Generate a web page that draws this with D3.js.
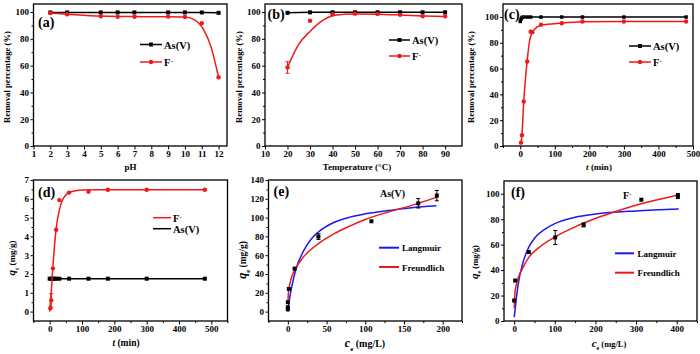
<!DOCTYPE html>
<html><head><meta charset="utf-8">
<script src="https://cdn.jsdelivr.net/npm/d3@7"></script>
<style>
body{margin:0;background:#fff}
svg{display:block}
text{font-family:"Liberation Serif","Times New Roman",serif;font-weight:bold;fill:#000}
</style>
</head><body>
<svg id="c" width="700" height="354"></svg>
<script>
// ---------- data ----------
// (a) effect of pH
const phX   = [2,3,5,6,7,9,10,11,12];
const phAs  = [99.7,99.7,99.7,99.7,99.7,99.7,99.7,99.7,99.4];
const phF   = [99.2,98.4,96.9,96.4,96.5,96.6,96.3,91.6,51.3];
const phFitX= [2,3,5,7,9,10,10.6,11.1,11.55,12];
const phFitY= [99.2,98.4,97.0,96.6,96.5,96.3,94.0,87.0,74.0,51.3];
// (b) effect of temperature
const tpX   = [20,30,40,50,60,70,80,90];
const tpAs  = [99.4,99.8,99.8,99.8,99.8,99.8,99.8,99.8];
const tpF   = [58.6,93.5,98.3,98.8,98.6,97.9,96.9,96.8];
const tpFerr= [4.3,0,0,0,0,0,0,0];
const tpFitX= [20,25,30,35,40,45,50,60,70,80,90];
const tpFitY= [58.6,76,85.5,93,97.3,98.3,98.6,98.4,97.8,97.1,96.6];
// (c) removal vs time
const rtAsX = [0,2,5,10,20,30,60,120,180,300,480];
const rtAs  = [96.5,98.2,99.6,99.9,99.9,99.9,99.9,99.9,99.9,99.9,99.9];
const rtFX  = [2,5,10,20,30,35,60,120,180,300,480];
const rtF   = [2.6,8.4,34.5,65.5,88.6,88.2,94.0,95.1,96.5,96.5,96.5];
const rtFitX= [2,5,10,15,20,25,30,40,60,120,180,300,480];
const rtFitY= [2,9,34,52,66,78,85,90,93.5,95.2,96.2,96.5,96.5];
// (d) uptake vs time
const qtFX  = [2,5,10,20,30,60,120,180,300,480];
const qtF   = [0.18,0.6,2.3,4.35,5.93,6.33,6.38,6.48,6.48,6.48];
const qtFerr= [0,0.35,0,0,0,0,0,0,0,0];
const qtFitX= [0,5,10,15,20,30,40,50,60,80,100,150,200,480];
const qtFitY= [0,1.1,2.4,3.5,4.4,5.4,5.95,6.2,6.33,6.43,6.47,6.48,6.48,6.48];
const qtAsX = [0,5,10,15,20,30,60,120,180,300,480];
const qtAs  = [1.75,1.75,1.75,1.75,1.75,1.75,1.75,1.75,1.75,1.75,1.75];
// (e) As(V) isotherm
const isoAsX  = [0,0,0,1.3,8.7,39.5,108,168.5,192.5];
const isoAsY  = [2.5,4.6,10,24.1,45.7,79.8,96.1,115.2,123.4];
const isoAsErr= [0,0,0,0,0,3,0,5,5.5];
const langAsX = [0,2,5,10,20,30,40,60,80,100,130,160,192];
const langAsY = [0,12.5,26,44,64,77,85,95,100.5,104,107.5,110.5,112.5];
const frAsX   = [0.1,0.5,1,2,5,10,20,40,60,80,100,130,160,192];
const frAsY   = [10,17,21.6,27,37,46,58,72.6,83,91,98,106,113,121.5];
// (f) F- isotherm
const isoFX   = [0,2.5,36,101,171,313,403];
const isoFY   = [16.1,31.8,54.2,65.6,75.5,95.3,98.2];
const isoFErr = [0,0,0,5.5,1.5,0,2];
const langFX  = [0,2,5,10,20,36,50,75,100,150,200,300,405];
const langFY  = [3,8,17,29,44,58,65,72,76.5,81.5,84,86.5,88];
const frFX    = [0.2,1,2.5,5,10,20,36,60,100,150,200,250,300,350,405];
const frFY    = [10,17,23.5,28,34,41,50,57.5,66,74,80.5,86,91,95,99];
// tick labels
const ticksPH   = [1,2,3,4,5,6,7,8,9,10,11,12];
const ticksTemp = [10,20,30,40,50,60,70,80,90];
const ticksPct  = [0,20,40,60,80,100];
const ticksT500 = [0,100,200,300,400,500];
const ticksQt   = [0,1,2,3,4,5,6,7];
const ticksCeAs = [0,50,100,150,200];
const ticksQeAs = [0,20,40,60,80,100,120,140];
const ticksCeF  = [0,100,200,300,400];
const ticksQeF  = [0,20,40,60,80,100];

// ---------- drawing ----------
const RED="#f01818", BLUE="#1a1aee", BLACK="#000";
const svg=d3.select('#c');
const defs=svg.append('defs');
function range(a,b,s){const r=[];for(let v=a;v<=b+1e-9;v+=s)r.push(+v.toFixed(6));return r;}

function panel(o){
  const x=d3.scaleLinear().domain(o.xd).range([o.L,o.R]);
  const y=d3.scaleLinear().domain(o.yd).range([o.B,o.T]);
  const g=svg.append('g');
  defs.append('clipPath').attr('id','cl'+o.id).append('rect')
    .attr('x',o.L).attr('y',o.T).attr('width',o.R-o.L).attr('height',o.B-o.T);
  const style=s=>{s.select('.domain').remove();
    s.selectAll('line').attr('stroke','#000').attr('stroke-width',1);
    s.selectAll('text').attr('font-family','"Liberation Serif",serif').attr('font-weight','bold').attr('font-size',9).attr('fill','#000');
    s.attr('font-family',null).attr('font-size',null);};
  if(o.xminor) g.append('g').attr('transform',`translate(0,${o.B})`)
    .call(d3.axisBottom(x).tickValues(o.xminor).tickSize(2).tickFormat('')).call(style);
  g.append('g').attr('transform',`translate(0,${o.B})`)
    .call(d3.axisBottom(x).tickValues(o.xt).tickSize(3.5).tickPadding(1.5).tickFormat(d3.format('d'))).call(style);
  if(o.yminor) g.append('g').attr('transform',`translate(${o.L},0)`)
    .call(d3.axisLeft(y).tickValues(o.yminor).tickSize(2).tickFormat('')).call(style);
  g.append('g').attr('transform',`translate(${o.L},0)`)
    .call(d3.axisLeft(y).tickValues(o.yt).tickSize(3).tickPadding(1.5).tickFormat(d3.format('d'))).call(style);
  g.append('rect').attr('x',o.L).attr('y',o.T).attr('width',o.R-o.L).attr('height',o.B-o.T)
    .attr('fill','none').attr('stroke','#000').attr('stroke-width',1.3);
  const pg=g.append('g').attr('clip-path',`url(#cl${o.id})`);
  return {x,y,g,pg};
}
function line(p,X,Y,color,w,curve){
  const pts=X.map((v,i)=>[v,Y[i]]);
  p.pg.append('path').datum(pts).attr('fill','none').attr('stroke',color).attr('stroke-width',w)
    .attr('d',d3.line().x(d=>p.x(d[0])).y(d=>p.y(d[1])).curve(curve||d3.curveLinear));
}
function squares(p,X,Y,color,s){
  s=s||4;
  p.pg.append('g').selectAll('rect').data(X.map((v,i)=>[v,Y[i]])).join('rect')
    .attr('x',d=>p.x(d[0])-s/2).attr('y',d=>p.y(d[1])-s/2).attr('width',s).attr('height',s).attr('fill',color);
}
function dots(p,X,Y,color,r){
  p.pg.append('g').selectAll('circle').data(X.map((v,i)=>[v,Y[i]])).join('circle')
    .attr('cx',d=>p.x(d[0])).attr('cy',d=>p.y(d[1])).attr('r',r||2.2).attr('fill',color);
}
function errs(p,X,Y,E,color){
  const d=X.map((v,i)=>[v,Y[i],E[i]]).filter(d=>d[2]>0);
  const g=p.pg.append('g').attr('stroke',color).attr('stroke-width',1);
  d.forEach(e=>{
    const cx=p.x(e[0]), a=p.y(e[1]+e[2]), b=p.y(e[1]-e[2]);
    g.append('line').attr('x1',cx).attr('x2',cx).attr('y1',a).attr('y2',b);
    g.append('line').attr('x1',cx-2).attr('x2',cx+2).attr('y1',a).attr('y2',a);
    g.append('line').attr('x1',cx-2).attr('x2',cx+2).attr('y1',b).attr('y2',b);
  });
}
function txt(x,y,s,fs,anchor,rot){
  const t=svg.append('text').attr('x',x).attr('y',y).attr('font-size',fs).attr('text-anchor',anchor||'start');
  if(rot) t.attr('transform',`rotate(-90,${x},${y})`);
  s.forEach(seg=>{
    const ts=t.append('tspan').text(seg.t);
    if(seg.i) ts.attr('font-style','italic');
    if(seg.fs) ts.attr('font-size',seg.fs);
    if(seg.sup) ts.attr('baseline-shift','super').attr('font-size',fs*0.65);
    if(seg.sub) ts.attr('baseline-shift','sub').attr('font-size',fs*0.7);
  });
  return t;
}
function legLine(x1,x2,y,color,w,marker){
  svg.append('line').attr('x1',x1).attr('x2',x2).attr('y1',y).attr('y2',y).attr('stroke',color).attr('stroke-width',w);
  const m=(x1+x2)/2;
  if(marker==='sq') svg.append('rect').attr('x',m-2).attr('y',y-2).attr('width',4).attr('height',4).attr('fill',color);
  if(marker==='ci') svg.append('circle').attr('cx',m).attr('cy',y).attr('r',2.2).attr('fill',color);
}
const Fm=(fs)=>[{t:'F'},{t:'-',sup:true}];

// (a)
const A=panel({id:'a',L:33.5,R:227,T:4,B:146,xd:[1,12.5],yd:[0,106],xt:ticksPH,yt:ticksPct,yminor:range(10,100,20)});
line(A,phX,phAs,BLACK,1.5); squares(A,phX,phAs,BLACK);
line(A,phFitX,phFitY,RED,1.5,d3.curveMonotoneX); dots(A,phX,phF,RED);
legLine(140,162,44.5,BLACK,1.5,'sq'); txt(164,48.5,[{t:'As(V)'}],10.5);
legLine(140,162,62,RED,1.5,'ci'); txt(164,66,Fm(),10.5);
txt(38,27,[{t:'(a)'}],14);
txt(130.5,169.5,[{t:'pH'}],9,'middle');
txt(10,77,[{t:'Removal percentage (%)'}],8.7,'middle',true);

// (b)
const B=panel({id:'b',L:265,R:462,T:4,B:146,xd:[10,97.5],yd:[0,106],xt:ticksTemp,yt:ticksPct,yminor:range(10,100,20)});
line(B,tpX,tpAs,BLACK,1.5); squares(B,tpX,tpAs,BLACK);
line(B,tpFitX,tpFitY,RED,1.5,d3.curveMonotoneX); errs(B,tpX,tpF,tpFerr,RED); dots(B,tpX,tpF,RED);
legLine(389,410,40,BLACK,1.5,'sq'); txt(412,44,[{t:'As(V)'}],10.5);
legLine(389,410,56,RED,1.5,'ci'); txt(412,60,Fm(),10.5);
txt(267.5,19,[{t:'(b)'}],14);
txt(357,169.5,[{t:'Temperature (°C)'}],9,'middle');
txt(242,77,[{t:'Removal percentage (%)'}],8.7,'middle',true);

// (c)
const C=panel({id:'c',L:503,R:693,T:4,B:146,xd:[-50,500],yd:[0,110],xt:ticksT500,yt:ticksPct,xminor:range(-50,450,100),yminor:range(10,100,20)});
line(C,rtAsX,rtAs,BLACK,1.5); squares(C,rtAsX,rtAs,BLACK,3.5);
line(C,rtFitX,rtFitY,RED,1.5,d3.curveMonotoneX); dots(C,rtFX,rtF,RED);
legLine(629,651,46,BLACK,1.5,'sq'); txt(653,50,[{t:'As(V)'}],10.5);
legLine(629,651,62,RED,1.5,'ci'); txt(653,66,Fm(),10.5);
txt(504,19,[{t:'(c)'}],14);
txt(599,169.5,[{t:'t',i:true},{t:' (min)'}],9,'middle');
txt(474,77,[{t:'Removal percentage (%)'}],8.7,'middle',true);

// (d)
const D=panel({id:'d',L:33.5,R:227.5,T:180,B:321,xd:[-50,550],yd:[-0.5,7],xt:ticksT500,yt:ticksQt,xminor:range(-50,550,100),yminor:range(0.5,6.5,1)});
line(D,qtAsX,qtAs,BLACK,1.5); squares(D,qtAsX,qtAs,BLACK);
line(D,qtFitX,qtFitY,RED,1.5,d3.curveMonotoneX); errs(D,qtFX,qtF,qtFerr,RED); dots(D,qtFX,qtF,RED);
legLine(153,171,217.7,RED,1.5); txt(173,221.5,Fm(),10.5);
legLine(153,171,228.7,BLACK,1.5); txt(173,232.5,[{t:'As(V)'}],10.5);
txt(38,197,[{t:'(d)'}],14);
txt(126,345.5,[{t:'t',i:true},{t:' (min)'}],9.5,'middle');
txt(15,258,[{t:'q',i:true,fs:11},{t:'t',sub:true},{t:' (mg/g)'}],9,'middle',true);

// (e)
const E=panel({id:'e',L:268.5,R:462,T:180,B:321,xd:[-25,225],yd:[-10,140],xt:ticksCeAs,yt:ticksQeAs,xminor:range(-25,225,50),yminor:range(10,130,20)});
line(E,langAsX,langAsY,BLUE,1.5,d3.curveMonotoneX);
line(E,frAsX,frAsY,RED,1.5,d3.curveMonotoneX);
errs(E,isoAsX,isoAsY,isoAsErr,BLACK); squares(E,isoAsX,isoAsY,BLACK);
legLine(379,399,247.7,BLUE,2); txt(402,251,[{t:'Langmuir'}],9);
legLine(379,399,267,RED,2); txt(402,270.5,[{t:'Freundlich'}],9);
txt(380,196.5,[{t:'As(V)'}],10);
txt(273.5,196,[{t:'(e)'}],14);
txt(365,347,[{t:'c',i:true,fs:12},{t:'e',sub:true},{t:' (mg/L)'}],10,'middle');
txt(246,260,[{t:'q',i:true,fs:12},{t:'e',sub:true},{t:' (mg/g)'}],9.5,'middle',true);

// (f)
const Fp=panel({id:'f',L:504,R:697,T:181,B:321,xd:[-25,450],yd:[0,110],xt:ticksCeF,yt:ticksQeF,xminor:range(50,450,100),yminor:range(10,100,20)});
line(Fp,langFX,langFY,BLUE,1.5,d3.curveMonotoneX);
line(Fp,frFX,frFY,RED,1.5,d3.curveMonotoneX);
errs(Fp,isoFX,isoFY,isoFErr,BLACK); squares(Fp,isoFX,isoFY,BLACK);
legLine(615,634,253.3,BLUE,2); txt(637.5,256.5,[{t:'Langmuir'}],9);
legLine(615,634,272.7,RED,2); txt(637.5,276,[{t:'Freundlich'}],9);
txt(623,199,Fm(),10);
txt(511,197,[{t:'(f)'}],14);
txt(609,347,[{t:'c',i:true,fs:11},{t:'e',sub:true},{t:' (mg/L)'}],8.5,'middle');
txt(478,262,[{t:'q',i:true,fs:11},{t:'e',sub:true},{t:' (mg/g)'}],8.5,'middle',true);
</script>
</body></html>
